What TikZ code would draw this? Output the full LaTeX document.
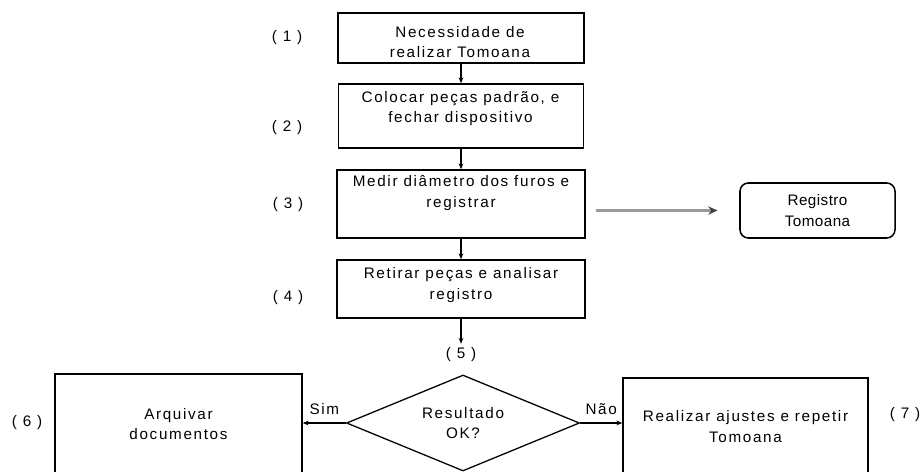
\documentclass[tikz,border=0pt]{standalone}
\usepackage{fontspec}
\setmainfont{Liberation Sans}
\newfontfamily\flowfont{Liberation Sans}[LetterSpace=11]
\newfontfamily\regfont{Liberation Sans}[LetterSpace=3]
\usetikzlibrary{arrows.meta,shapes.geometric}
\definecolor{arrowgray}{HTML}{9A9A9A}
\tikzset{
  >={Stealth[length=5pt,width=4pt]},
  stepbox/.style={draw, line width=1.3pt, inner sep=0pt},
  boxtext/.style={align=center, font=\flowfont\fontsize{13}{17.5}\selectfont},
  regtext/.style={align=center, font=\regfont\fontsize{13}{18.5}\selectfont},
  decision/.style={draw, diamond, aspect=2.43, minimum width=6.99cm, minimum height=2.88cm,
    inner sep=0pt, line width=1.1pt, boxtext},
  flow/.style={->, line width=.9pt},
  grayflow/.style={-{Stealth[length=8pt,width=7pt,color=black!75]}, line width=1.8pt, color=arrowgray}
}
\begin{document}
\begin{tikzpicture}[x=0.03cm,y=-0.03cm]
  \useasboundingbox (0,0) rectangle (924,471);
  \clip (0,0) rectangle (924,471);

  % main column
  \node[stepbox,minimum width=7.38cm,minimum height=1.5cm] (b1) at (461,38) {};
  \node[stepbox,minimum width=7.35cm,minimum height=1.92cm] (b2) at (461,116) {};
  \node[stepbox,minimum width=7.44cm,minimum height=2.04cm] (b3) at (461,204) {};
  \node[stepbox,minimum width=7.44cm,minimum height=1.74cm] (b4) at (461,289) {};
  \node[boxtext] (t1) at (460,42) {Necessidade de\\realizar Tomoana};
  \node[boxtext] (t2) at (460.5,108.5) {Colocar peças padrão, e\\fechar dispositivo};
  \node[boxtext] (t3) at (461,193) {Medir diâmetro dos furos e\\registrar};
  \node[boxtext] (t4) at (461,285) {Retirar peças e analisar\\registro};

  \node[stepbox,rounded corners=2.5mm,minimum width=4.65cm,minimum height=1.65cm,regtext] (reg) at (817.5,210.5) {Registro\\Tomoana};

  % decision and outcomes
  \node[decision] (dec) at (463,423) {Resultado\\OK?};
  \node[stepbox,minimum width=7.41cm,minimum height=3.48cm] (b6) at (178.5,432) {};
  \node[stepbox,minimum width=7.35cm,minimum height=3.36cm] (b7) at (745.5,434) {};
  \node[boxtext] (t6) at (178.5,424) {Arquivar\\documentos};
  \node[boxtext] (t7) at (745.5,426.5) {Realizar ajustes e repetir\\Tomoana};

  \foreach \n/\x/\y in {1/287/38,2/287/128,3/288/205,4/288/298,5/461/355,6/27/423,7/905/415}
    \node[boxtext] (n\n) at (\x,\y) {(\ \n\ )};

  \draw[flow] (b1.south) -- (b2.north);
  \draw[flow] (b2.south) -- (b3.north);
  \draw[flow] (b3.south) -- (b4.north);
  \draw[flow] (b4.south) -- (b4.south |- n5.north);
  \draw[grayflow,shorten <=8.5pt,shorten >=18.5pt] (b3.east |- reg.west) -- (reg.west);
  \draw[flow] (dec.west) -- (dec.west -| b6.east) node[midway,above=3pt,boxtext] (sim) {Sim};
  \draw[flow] (dec.east) -- (dec.east -| b7.west) node[midway,above=3pt,boxtext] (nao) {Não};
\end{tikzpicture}
\end{document}
